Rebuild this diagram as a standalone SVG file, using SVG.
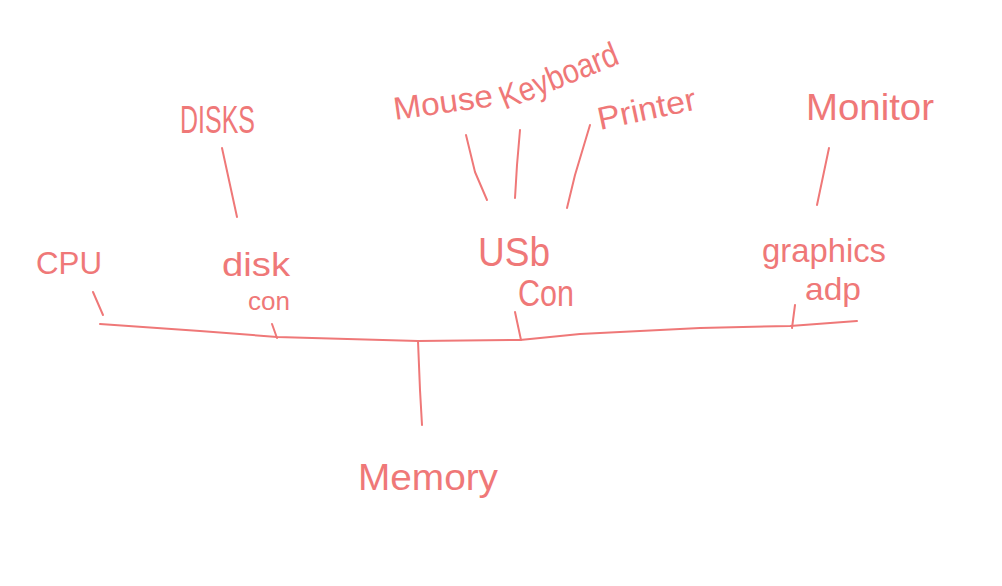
<svg xmlns="http://www.w3.org/2000/svg" width="1002" height="586" viewBox="0 0 1002 586">
<style>
text{font-family:"Liberation Sans","DejaVu Sans",sans-serif;fill:#ef7878;}
.ln{fill:none;stroke:#ef7878;stroke-width:2;stroke-linecap:round;stroke-linejoin:round;}
</style>
<rect width="1002" height="586" fill="#ffffff"/>
<g id="connectors">
<path class="ln" d="M100,324 L200,331 L277,337 L418,341 L520,340 L580,334 L700,328 L790,326 L857,321"/>
<path class="ln" d="M93,292 L103,315"/>
<path class="ln" d="M272,324 L277,338"/>
<path class="ln" d="M515,312 L521,340"/>
<path class="ln" d="M795,305 L792,328"/>
<path class="ln" d="M418,341 L420,390 L422,425"/>
<path class="ln" d="M222,148 L237,217"/>
<path class="ln" d="M466,135 L475,172 L487,200"/>
<path class="ln" d="M520,130 L517,165 L515,198"/>
<path class="ln" d="M590,125 L575,175 L567,208"/>
<path class="ln" d="M829,148 L817,205"/>
</g>
<g id="cpu"><text x="36" y="274" font-size="31" textLength="66" lengthAdjust="spacingAndGlyphs">CPU</text></g>
<g id="disks"><text x="180" y="133" font-size="38" textLength="75" lengthAdjust="spacingAndGlyphs">DISKS</text></g>
<g id="mouse"><text x="395" y="120" font-size="32" textLength="100" lengthAdjust="spacingAndGlyphs" transform="rotate(-8 395 120)">Mouse</text></g>
<g id="keyboard"><text x="505" y="110" font-size="34" textLength="125" lengthAdjust="spacingAndGlyphs" transform="rotate(-22 505 110)">Keyboard</text></g>
<g id="printer"><text x="600" y="130" font-size="32" textLength="100" lengthAdjust="spacingAndGlyphs" transform="rotate(-12 600 130)">Printer</text></g>
<g id="monitor"><text x="806" y="120" font-size="36" textLength="128" lengthAdjust="spacingAndGlyphs">Monitor</text></g>
<g id="diskcon">
<text x="222" y="276" font-size="34" textLength="68" lengthAdjust="spacingAndGlyphs">disk</text>
<text x="248" y="310" font-size="26" textLength="42" lengthAdjust="spacingAndGlyphs">con</text>
</g>
<g id="usbcon">
<text x="478" y="266" font-size="40" textLength="72" lengthAdjust="spacingAndGlyphs">USb</text>
<text x="518" y="306" font-size="36" textLength="56" lengthAdjust="spacingAndGlyphs">Con</text>
</g>
<g id="graphicsadp">
<text x="762" y="262" font-size="34" textLength="124" lengthAdjust="spacingAndGlyphs">graphics</text>
<text x="805" y="300" font-size="32" textLength="56" lengthAdjust="spacingAndGlyphs">adp</text>
</g>
<g id="memory"><text x="358" y="490" font-size="36" textLength="140" lengthAdjust="spacingAndGlyphs">Memory</text></g>
</svg>
